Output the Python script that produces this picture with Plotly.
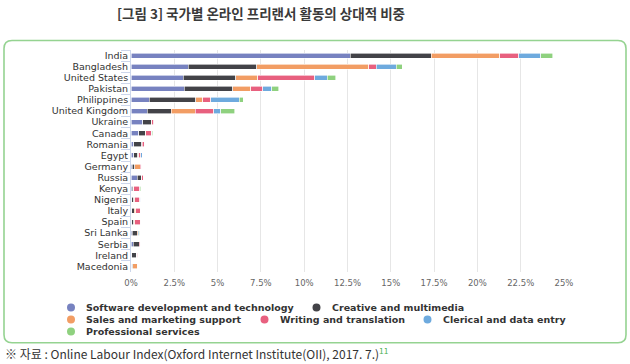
import plotly.graph_objects as go

# ---------------- data ----------------
countries = ["India", "Bangladesh", "United States", "Pakistan", "Philippines",
             "United Kingdom", "Ukraine", "Canada", "Romania", "Egypt", "Germany",
             "Russia", "Kenya", "Nigeria", "Italy", "Spain", "Sri Lanka", "Serbia",
             "Ireland", "Macedonia"]

series_names = ["Software development and technology", "Creative and multimedia",
                "Sales and marketing support", "Writing and translation",
                "Clerical and data entry", "Professional services"]

software = [12.67, 3.30, 3.01, 3.07, 1.05, 0.94, 0.69, 0.46, 0.17, 0.17, 0.06, 0.35,
            0.06, 0.03, 0.03, 0.03, 0.06, 0.12, 0.03, 0.03]
creative = [4.66, 3.97, 3.03, 2.80, 2.70, 1.38, 0.48, 0.35, 0.46, 0.23, 0.17, 0.23,
            0.06, 0.14, 0.17, 0.12, 0.29, 0.35, 0.29, 0.06]
sales = [3.97, 6.45, 1.27, 1.04, 0.40, 1.38, 0.02, 0.05, 0.02, 0.05, 0.29, 0.03,
         0.03, 0.05, 0.06, 0.06, 0.06, 0.02, 0.02, 0.29]
writing = [1.09, 0.44, 3.30, 0.71, 0.44, 1.09, 0.12, 0.31, 0.12, 0.12, 0.10, 0.12,
           0.35, 0.29, 0.29, 0.35, 0.02, 0.06, 0.06, 0.02]
clerical = [1.28, 1.15, 0.73, 0.52, 1.65, 0.40, 0.02, 0.02, 0.01, 0.07, 0.01, 0.01,
            0.02, 0.05, 0.01, 0.01, 0.06, 0.01, 0.01, 0.01]
professional = [0.67, 0.35, 0.48, 0.38, 0.25, 0.79, 0.01, 0.06, 0.01, 0.01, 0.01, 0.01,
                0.06, 0.01, 0.01, 0.01, 0.01, 0.01, 0.01, 0.01]

x_tick_values = [0, 2.5, 5, 7.5, 10, 12.5, 15, 17.5, 20, 22.5, 25]
x_tick_labels = ["0%", "2.5%", "5%", "7.5%", "10%", "12.5%", "15%", "17.5%",
                 "20%", "22.5%", "25%"]

title_text = "[그림 3] 국가별 온라인 프리랜서 활동의 상대적 비중"
source_text = "※ 자료 : Online Labour Index(Oxford Internet Institute(OII), 2017. 7.)"
source_note = "11"

# ---------------- style ----------------
colors = ["#7782c0", "#434348", "#f29d64", "#e8607f", "#6eaade", "#8fd17f"]

W, H = 630, 364
L, R, T, B = 131, 564, 49.5, 271.7


def px2x(px):
    return (px - L) / (R - L)


def px2y(py):
    return (B - py) / (B - T)


values = [software, creative, sales, writing, clerical, professional]

fig = go.Figure()
for name, vals, col in zip(series_names, values, colors):
    fig.add_trace(go.Bar(
        y=countries, x=vals, name=name, orientation="h",
        marker=dict(color=col, line=dict(color="white", width=0.6)),
        showlegend=False,
    ))

label_font = dict(family="DejaVu Sans", size=9.5, color="#333333")

fig.update_layout(
    width=W, height=H,
    barmode="stack", bargap=0.55,
    plot_bgcolor="white", paper_bgcolor="white",
    margin=dict(l=L, r=W - R, t=T, b=H - B, pad=0),
    title=dict(text=title_text, x=261 / W, xanchor="center", xref="container",
               y=1 - 14 / H, yanchor="middle", yref="container",
               font=dict(family="Noto Sans CJK KR", size=13.5, color="#3a3a3a", weight="bold")),
    xaxis=dict(range=[0, 25], tickvals=x_tick_values, ticktext=x_tick_labels,
               showgrid=True, gridcolor="#e6e6e6", gridwidth=1,
               zeroline=False, showline=False,
               ticks="outside", ticklen=3, tickcolor="rgba(0,0,0,0)",
               tickfont=dict(family="DejaVu Sans", size=8.5, color="#666666"),
               fixedrange=True),
    yaxis=dict(categoryorder="array", categoryarray=countries, autorange="reversed",
               showline=True, linecolor="#ccd6eb", linewidth=1,
               ticks="outside", tickson="boundaries", ticklen=9,
               tickcolor="#ccd6eb", tickwidth=1,
               tickfont=label_font, showgrid=False, zeroline=False),
)

# rounded green frame
r = 8
x0, x1, y0, y1 = 4, 626, 40, 342.5
path = (
    f"M {px2x(x0 + r)} {px2y(y0)} L {px2x(x1 - r)} {px2y(y0)} "
    f"Q {px2x(x1)} {px2y(y0)} {px2x(x1)} {px2y(y0 + r)} "
    f"L {px2x(x1)} {px2y(y1 - r)} "
    f"Q {px2x(x1)} {px2y(y1)} {px2x(x1 - r)} {px2y(y1)} "
    f"L {px2x(x0 + r)} {px2y(y1)} "
    f"Q {px2x(x0)} {px2y(y1)} {px2x(x0)} {px2y(y1 - r)} "
    f"L {px2x(x0)} {px2y(y0 + r)} "
    f"Q {px2x(x0)} {px2y(y0)} {px2x(x0 + r)} {px2y(y0)} Z"
)
fig.add_shape(type="path", path=path, xref="paper", yref="paper",
              line=dict(color="#95d391", width=1.6), fillcolor="rgba(0,0,0,0)", layer="below")

# legend (compact 3-row layout: circle shapes + text annotations)
legend_pos = [(85, 307.3), (330.5, 307.3), (85, 319.2), (278.5, 319.2), (441.5, 319.2), (85, 331.2)]
legend_font = dict(family="DejaVu Sans", size=9.5, color="#333333", weight="bold")
rad = 4
for name, col, (tx, ty) in zip(series_names, colors, legend_pos):
    cx = tx - 14
    fig.add_shape(type="circle", xref="paper", yref="paper",
                  x0=px2x(cx - rad), x1=px2x(cx + rad), y0=px2y(ty + rad), y1=px2y(ty - rad),
                  fillcolor=col, line=dict(width=0))
    fig.add_annotation(x=px2x(tx), y=px2y(ty), xref="paper", yref="paper",
                       text=name, showarrow=False, xanchor="left", yanchor="middle",
                       borderpad=0, font=legend_font)

# source note
fig.add_annotation(
    x=px2x(4), y=px2y(352.5), xref="paper", yref="paper", showarrow=False,
    xanchor="left", yanchor="middle", borderpad=0,
    text=source_text + f"<sup><span style='color:#4caf50'>{source_note}</span></sup>",
    font=dict(family="Liberation Sans Narrow, Arial Narrow, Noto Sans CJK KR", size=12, color="#333333"),
)

fig.write_html("out.html",
               config={"displayModeBar": False},
               post_script="document.body.style.margin='0';document.body.style.overflow='hidden';")
